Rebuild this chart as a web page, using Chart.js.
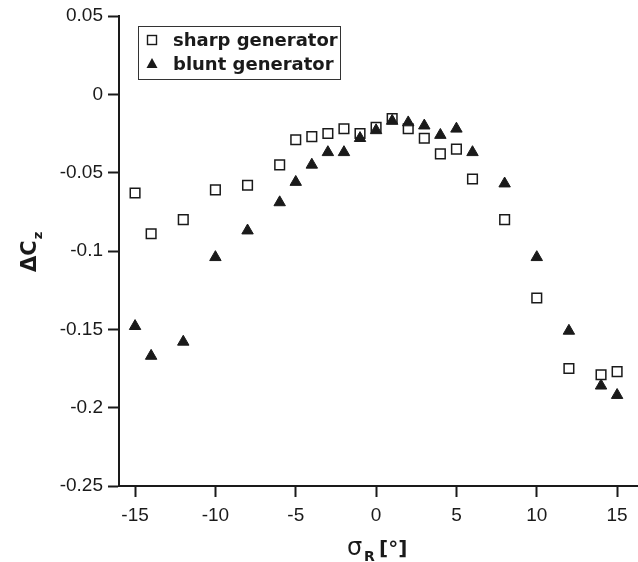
<!DOCTYPE html>
<html>
<head>
<meta charset="utf-8">
<script src="https://cdn.jsdelivr.net/npm/chart.js@4.4.1/dist/chart.umd.min.js"></script>
<style>
  body { margin: 0; background: #fff; }
  canvas { display: block; }
</style>
</head>
<body>
<canvas id="czChart" width="638" height="562"></canvas>
<script>
// sideslip angle sigma_R [deg]
const sigmaR = [-15, -14, -12, -10, -8, -6, -5, -4, -3, -2, -1, 0, 1, 2, 3, 4, 5, 6, 8, 10, 12, 14, 15];
const sharpGen = [-0.063, -0.089, -0.080, -0.061, -0.058, -0.045, -0.029, -0.027, -0.025, -0.022, -0.025, -0.021,
    -0.0155, -0.022, -0.028, -0.038, -0.035, -0.054, -0.080, -0.130, -0.175, -0.179, -0.177];
const bluntGen = [-0.148, -0.167, -0.158, -0.104, -0.087, -0.069, -0.056, -0.045, -0.037, -0.037, -0.028, -0.023,
    -0.017, -0.018, -0.020, -0.026, -0.022, -0.037, -0.057, -0.104, -0.151, -0.186, -0.192];
const seriesNames = ['sharp generator', 'blunt generator'];
const xTicks = [-15, -10, -5, 0, 5, 10, 15];
const yTicks = [0.05, 0, -0.05, -0.1, -0.15, -0.2, -0.25];

const ink = '#1a1a1a';
const tickFont = { family: 'Liberation Sans', size: 19 };

function toPoints(ys) {
    return sigmaR.map((x, i) => ({ x: x, y: ys[i] }));
}

// titles with subscripts and the boxed legend
const extrasPlugin = {
    id: 'extras',
    afterDraw(chart) {
        const ctx = chart.ctx;
        ctx.save();
        ctx.fillStyle = ink;
        ctx.textBaseline = 'alphabetic';

        // y title: ΔCz rotated
        ctx.save();
        ctx.translate(36, 272);
        ctx.rotate(-Math.PI / 2);
        ctx.textAlign = 'left';
        ctx.font = 'bold 21px "DejaVu Sans"';
        ctx.fillText('ΔC', 0, 0);
        const w = ctx.measureText('ΔC').width;
        ctx.font = 'bold 13px "DejaVu Sans"';
        ctx.fillText('z', w + 1, 6);
        ctx.restore();

        // x title: σR [°]
        ctx.textAlign = 'left';
        ctx.font = '24px "DejaVu Sans"';
        ctx.fillText('σ', 347, 555);
        ctx.font = 'bold 14px "DejaVu Sans"';
        ctx.fillText('R', 364, 561);
        ctx.font = 'bold 20px "DejaVu Sans"';
        ctx.fillText('[°]', 379, 555);

        // legend box
        const bx = 138, by = 26, bw = 202, bh = 53;
        ctx.strokeStyle = '#333';
        ctx.lineWidth = 1;
        ctx.strokeRect(bx + 0.5, by + 0.5, bw, bh);
        const rows = [40, 64];
        chart.data.datasets.forEach((ds, i) => {
            const cy = rows[i], cx = 152;
            ctx.strokeStyle = ink;
            ctx.fillStyle = ink;
            if (ds.pointStyle === 'rect') {
                ctx.lineWidth = 1.4;
                ctx.strokeRect(cx - 4.5, cy - 4.5, 9, 9);
            } else {
                ctx.beginPath();
                ctx.moveTo(cx, cy - 6);
                ctx.lineTo(cx + 5.5, cy + 4);
                ctx.lineTo(cx - 5.5, cy + 4);
                ctx.closePath();
                ctx.fill();
            }
            ctx.fillStyle = ink;
            ctx.font = 'bold 18px "DejaVu Sans"';
            ctx.textBaseline = 'middle';
            ctx.fillText(ds.label, 173, cy + 1);
        });
        ctx.restore();
    }
};

const ctx = document.getElementById('czChart').getContext('2d');
const czChart = new Chart(ctx, {
    type: 'scatter',
    data: {
        datasets: [
            {
                label: seriesNames[0],
                data: toPoints(sharpGen),
                pointStyle: 'rect',
                pointRadius: 6.8,
                borderColor: ink,
                backgroundColor: 'rgba(0,0,0,0)',
                borderWidth: 1.5,
                clip: false,
                order: 2
            },
            {
                label: seriesNames[1],
                data: toPoints(bluntGen),
                pointStyle: 'triangle',
                pointRadius: 6.6,
                borderColor: ink,
                backgroundColor: ink,
                borderWidth: 1,
                clip: false,
                order: 1
            }
        ]
    },
    options: {
        responsive: false,
        animation: false,
        layout: { autoPadding: false, padding: { top: 16, right: 0, left: 0, bottom: 0 } },
        plugins: {
            legend: { display: false },
            tooltip: { enabled: false }
        },
        scales: {
            x: {
                type: 'linear',
                min: -16,
                max: 16.3,
                afterBuildTicks: (scale) => { scale.ticks = xTicks.map(v => ({ value: v })); },
                afterFit: (scale) => {
                    scale.height = 76;
                    scale.paddingLeft = 0;
                    scale.paddingRight = 0;
                },
                border: { display: true, color: ink, width: 2 },
                grid: { display: true, drawOnChartArea: false, drawTicks: true, tickLength: 11, tickWidth: 2, tickColor: ink },
                ticks: { color: ink, font: tickFont, padding: 7, maxRotation: 0, callback: (v) => String(v) }
            },
            y: {
                type: 'linear',
                min: -0.25,
                max: 0.05,
                afterBuildTicks: (scale) => { scale.ticks = yTicks.map(v => ({ value: v })); },
                afterFit: (scale) => {
                    scale.width = 119;
                    scale.paddingTop = 0;
                    scale.paddingBottom = 0;
                },
                border: { display: true, color: ink, width: 2 },
                grid: { display: true, drawOnChartArea: false, drawTicks: true, tickLength: 11, tickWidth: 2, tickColor: ink },
                ticks: { color: ink, font: tickFont, padding: 5, callback: (v) => String(Number(v.toFixed(2))) }
            }
        }
    },
    plugins: [extrasPlugin]
});
</script>
</body>
</html>
